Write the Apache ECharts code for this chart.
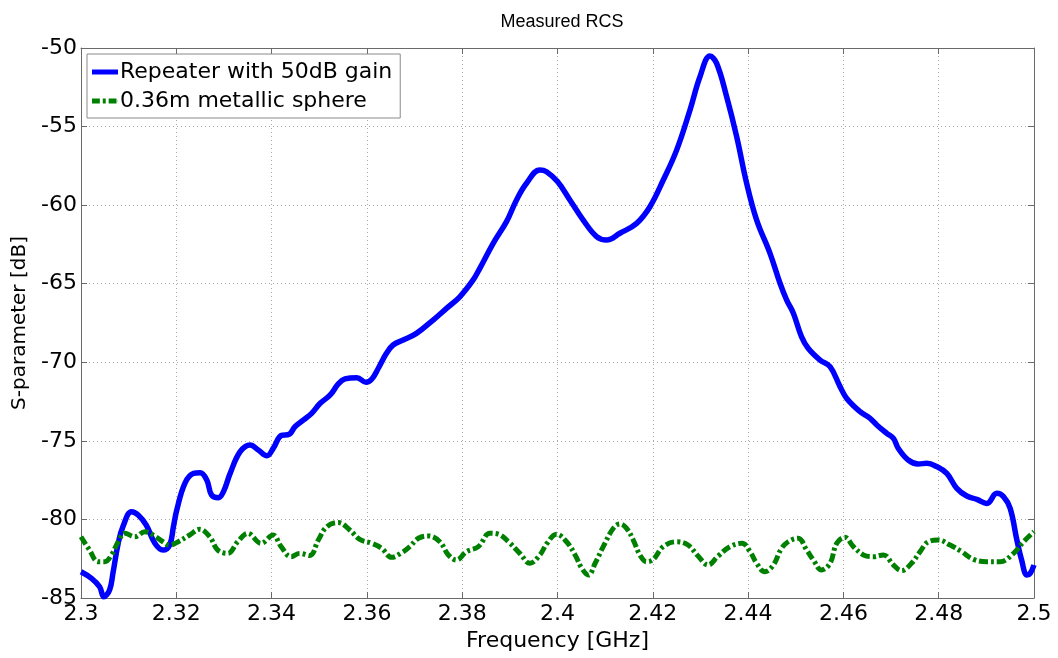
<!DOCTYPE html>
<html>
<head>
<meta charset="utf-8">
<script src="https://cdn.jsdelivr.net/npm/echarts@6/dist/echarts.min.js"></script>
<style>
  html, body { margin: 0; padding: 0; background: #fff; }
  #chart { width: 1058px; height: 658px; }
</style>
</head>
<body>
<div id="chart"></div>
<script>
// frequency [GHz] and level [dB]
const repeaterFreq = [
  2.3000, 2.3022, 2.3039, 2.3048, 2.3060, 2.3067, 2.3078, 2.3088, 2.3106, 2.3120,
  2.3137, 2.3155, 2.3172, 2.3186, 2.3194, 2.3201, 2.3218, 2.3236, 2.3250, 2.3264,
  2.3274, 2.3288, 2.3299, 2.3313, 2.3334, 2.3355, 2.3372, 2.3390, 2.3404, 2.3420,
  2.3437, 2.3449, 2.3467, 2.3484, 2.3502, 2.3523, 2.3540, 2.3554, 2.3579, 2.3598,
  2.3610, 2.3624, 2.3641, 2.3655, 2.3676, 2.3704, 2.3739, 2.3767, 2.3795, 2.3823,
  2.3837, 2.3865, 2.3893, 2.3914, 2.3935, 2.3963, 2.3977, 2.4000, 2.4026, 2.4054,
  2.4082, 2.4103, 2.4131, 2.4166, 2.4194, 2.4222, 2.4250, 2.4278, 2.4299, 2.4320,
  2.4334, 2.4355, 2.4376, 2.4397, 2.4418, 2.4446, 2.4467, 2.4481, 2.4495, 2.4512,
  2.4526, 2.4551, 2.4572, 2.4593, 2.4607, 2.4635, 2.4656, 2.4670, 2.4691, 2.4705,
  2.4715, 2.4736, 2.4757, 2.4775, 2.4796, 2.4817, 2.4838, 2.4859, 2.4880, 2.4901,
  2.4922, 2.4936, 2.4950, 2.4964, 2.4974, 2.4985, 2.4992, 2.5000
];
const repeaterDb = [
  -83.33, -83.75, -84.28, -84.92, -84.49, -83.43, -81.52, -80.46, -79.51, -79.72,
  -80.36, -81.52, -81.95, -81.63, -80.46, -79.40, -77.70, -77.07, -77.03, -77.49,
  -78.45, -78.62, -78.23, -77.07, -75.69, -75.26, -75.58, -75.95, -75.45, -74.66,
  -74.58, -74.10, -73.67, -73.25, -72.61, -72.08, -71.38, -71.06, -70.98, -71.27,
  -71.08, -70.38, -69.43, -68.90, -68.58, -68.16, -67.31, -66.57, -65.83, -64.76,
  -64.02, -62.43, -61.05, -59.67, -58.61, -57.76, -57.87, -58.50, -59.67, -60.95,
  -62.00, -62.22, -61.79, -61.16, -60.10, -58.40, -56.50, -53.95, -51.83, -50.51,
  -50.98, -53.10, -55.64, -58.61, -60.95, -63.07, -64.97, -66.04, -66.88, -68.37,
  -69.11, -69.86, -70.28, -71.55, -72.30, -73.14, -73.57, -73.99, -74.52, -74.84,
  -75.47, -76.22, -76.47, -76.43, -76.64, -77.07, -78.02, -78.51, -78.72, -78.98,
  -78.34, -78.55, -79.30, -81.30, -82.58, -83.54, -83.43, -82.90
];

const sphereFreq = [
  2.3000, 2.3018, 2.3036, 2.3050, 2.3064, 2.3078, 2.3092, 2.3113, 2.3134, 2.3151,
  2.3172, 2.3186, 2.3204, 2.3228, 2.3249, 2.3270, 2.3287, 2.3308, 2.3329, 2.3350,
  2.3378, 2.3403, 2.3420, 2.3441, 2.3459, 2.3480, 2.3498, 2.3516, 2.3540, 2.3564,
  2.3585, 2.3610, 2.3631, 2.3652, 2.3673, 2.3690, 2.3708, 2.3729, 2.3753, 2.3771,
  2.3788, 2.3809, 2.3834, 2.3858, 2.3876, 2.3897, 2.3921, 2.3942, 2.3963, 2.3978,
  2.3998, 2.4019, 2.4037, 2.4051, 2.4065, 2.4079, 2.4096, 2.4117, 2.4131, 2.4145,
  2.4159, 2.4173, 2.4187, 2.4201, 2.4222, 2.4250, 2.4274, 2.4295, 2.4316, 2.4337,
  2.4362, 2.4387, 2.4404, 2.4418, 2.4435, 2.4453, 2.4469, 2.4484, 2.4505, 2.4523,
  2.4537, 2.4554, 2.4572, 2.4586, 2.4603, 2.4621, 2.4642, 2.4663, 2.4684, 2.4705,
  2.4722, 2.4743, 2.4761, 2.4778, 2.4799, 2.4824, 2.4848, 2.4873, 2.4901, 2.4929,
  2.4957, 2.4978, 2.5000
];
const sphereDb = [
  -81.10, -81.95, -82.69, -82.69, -82.26, -81.42, -80.88, -81.10, -80.78, -80.99,
  -81.42, -81.63, -81.42, -80.99, -80.63, -81.10, -81.95, -82.16, -81.42, -80.88,
  -81.52, -80.99, -81.73, -82.37, -82.16, -82.30, -81.31, -80.46, -80.20, -80.67,
  -81.27, -81.52, -81.84, -82.41, -82.12, -81.73, -81.20, -81.05, -81.42, -82.26,
  -82.58, -82.05, -81.73, -80.88, -80.94, -81.42, -82.16, -82.79, -82.26, -81.52,
  -80.94, -81.42, -82.26, -83.11, -83.54, -82.79, -81.73, -80.57, -80.29, -80.57,
  -81.31, -82.26, -82.69, -82.54, -81.73, -81.42, -81.63, -82.33, -82.90, -82.33,
  -81.73, -81.52, -82.05, -82.79, -83.33, -82.90, -81.90, -81.42, -81.20, -81.95,
  -82.58, -83.22, -82.79, -81.52, -81.14, -81.73, -82.26, -82.37, -82.26, -82.90,
  -83.26, -82.79, -82.05, -81.42, -81.31, -81.63, -82.05, -82.54, -82.69, -82.69,
  -82.16, -81.42, -80.78
];

const seriesNames = ['Repeater with 50dB gain', '0.36m metallic sphere'];

const font = '"DejaVu Sans", Verdana, sans-serif';
const zip = (xs, ys) => xs.map((x, i) => [x, ys[i]]);

const chart = echarts.init(document.getElementById('chart'), null, { renderer: 'canvas' });

const frameColor = '#6a6a6a';
const gridLine = { show: true, lineStyle: { color: '#a8a8a8', type: [1, 3], width: 1 } };
const frameAxis = {
  axisLine: { show: true, onZero: false, lineStyle: { color: frameColor, width: 1 } },
  axisTick: { show: true, inside: true, length: 6, lineStyle: { color: frameColor } },
  axisLabel: { show: false },
  splitLine: { show: false }
};

const option = {
  backgroundColor: '#ffffff',
  animation: false,
  title: {
    text: 'Measured RCS',
    left: 557,
    top: 8,
    textAlign: 'center',
    textStyle: { fontFamily: '"Liberation Sans", Arial, sans-serif', fontSize: 18, fontWeight: 'normal', color: '#000' }
  },
  grid: { left: 81, right: 24, top: 48, bottom: 60, containLabel: false },
  legend: {
    orient: 'vertical',
    left: 87,
    top: 54,
    padding: [7, 8, 6, 5],
    itemGap: 7,
    itemWidth: 26,
    itemHeight: 5,
    backgroundColor: '#ffffff',
    borderColor: '#8a8a8a',
    borderWidth: 1,
    borderRadius: 0,
    textStyle: { fontFamily: font, fontSize: 22, color: '#000', padding: [0, 0, 0, -3] },
    data: [
      { name: seriesNames[0], icon: 'rect', itemStyle: { color: '#0000ff' } },
      {
        name: seriesNames[1],
        icon: 'path://M0 0H8V5H0Z M11 0H14V5H11Z M17 0H25V5H17Z M26 2H26.5V3H26Z',
        itemStyle: { color: '#008000' }
      }
    ]
  },
  xAxis: [
    Object.assign({}, frameAxis, {
      type: 'value',
      min: 2.3,
      max: 2.5,
      interval: 0.02,
      name: 'Frequency [GHz]',
      nameLocation: 'middle',
      nameGap: 28,
      nameTextStyle: { fontFamily: font, fontSize: 22, color: '#000' },
      axisLabel: {
        show: true, fontFamily: font, fontSize: 22, color: '#000', margin: 5,
        formatter: v => String(parseFloat(v.toFixed(2)))
      },
      splitLine: gridLine
    }),
    Object.assign({}, frameAxis, { type: 'value', position: 'top', min: 2.3, max: 2.5, interval: 0.02 })
  ],
  yAxis: [
    Object.assign({}, frameAxis, {
      type: 'value',
      min: -85,
      max: -50,
      interval: 5,
      name: 'S-parameter [dB]',
      nameLocation: 'middle',
      nameGap: 50,
      nameTextStyle: { fontFamily: font, fontSize: 20, color: '#000' },
      axisLabel: { show: true, fontFamily: font, fontSize: 22, color: '#000', margin: 4 },
      splitLine: gridLine
    }),
    Object.assign({}, frameAxis, { type: 'value', position: 'right', min: -85, max: -50, interval: 5 })
  ],
  series: [
    {
      name: seriesNames[0],
      type: 'line',
      data: zip(repeaterFreq, repeaterDb),
      symbol: 'none',
      smooth: 0.4,
      lineStyle: { color: '#0000ff', width: 5.5 },
      itemStyle: { color: '#0000ff' }
    },
    {
      name: seriesNames[1],
      type: 'line',
      data: zip(sphereFreq, sphereDb),
      symbol: 'none',
      smooth: 0.4,
      lineStyle: { color: '#008000', width: 5, type: [9, 3, 3, 3], cap: 'butt' },
      itemStyle: { color: '#008000' }
    }
  ]
};

chart.setOption(option);
</script>
</body>
</html>
